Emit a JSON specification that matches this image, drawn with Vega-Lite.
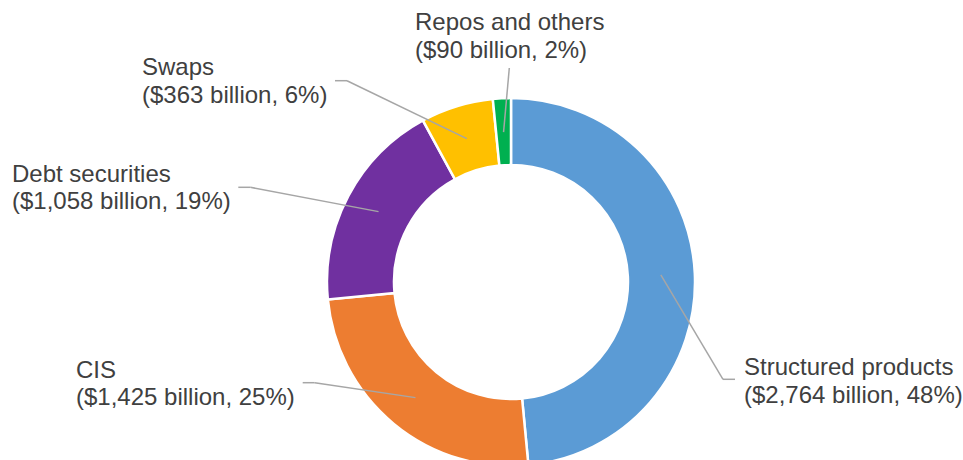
{
  "$schema": "https://vega.github.io/schema/vega-lite/v6.json",
  "width": 904,
  "height": 356,
  "autosize": {"type": "none"},
  "padding": {"left": 59, "top": 104, "right": 0, "bottom": 0},
  "background": "white",
  "config": {"view": {"stroke": null}},
  "data": {
    "values": [
      {"category": "Structured products", "value": 2764, "pct": 48, "order": 1},
      {"category": "CIS", "value": 1425, "pct": 25, "order": 2},
      {"category": "Debt securities", "value": 1058, "pct": 19, "order": 3},
      {"category": "Swaps", "value": 363, "pct": 6, "order": 4},
      {"category": "Repos and others", "value": 90, "pct": 2, "order": 5}
    ]
  },
  "transform": [
    {"joinaggregate": [{"op": "sum", "field": "value", "as": "total"}]},
    {"window": [{"op": "sum", "field": "value", "as": "cum"}], "sort": [{"field": "order", "order": "ascending"}], "frame": [null, 0]},
    {"calculate": "2*PI*(datum.cum - datum.value/2)/datum.total", "as": "mid"},
    {"calculate": "150*sin(datum.mid)", "as": "ix"},
    {"calculate": "150*cos(datum.mid)", "as": "iy"},
    {"calculate": "[datum.category, '($' + format(datum.value, ',') + ' billion, ' + datum.pct + '%)']", "as": "label"},
    {"calculate": "datum.order==1 ? 233 : datum.order==2 ? -435 : datum.order==3 ? -499 : datum.order==4 ? -369 : -96", "as": "tx"},
    {"calculate": "datum.order==1 ? -93 : datum.order==2 ? -95.5 : datum.order==3 ? 100.3 : datum.order==4 ? 207 : 252", "as": "ty"},
    {"calculate": "datum.order==1 ? 224 : datum.order==2 ? -208.3 : datum.order==3 ? -272.7 : datum.order==4 ? -176 : -1.7", "as": "ex"},
    {"calculate": "datum.order==1 ? -97.3 : datum.order==2 ? -100.7 : datum.order==3 ? 94.7 : datum.order==4 ? 201.3 : 214", "as": "ey"},
    {"calculate": "datum.order==5 ? datum.ex : datum.ex > 0 ? datum.ex - 12 : datum.ex + 12", "as": "bx"},
    {"calculate": "datum.ey", "as": "by"}
  ],
  "layer": [
    {
      "mark": {"type": "arc", "outerRadius": 184, "innerRadius": 117, "stroke": "white", "strokeWidth": 2.5},
      "encoding": {
        "theta": {"field": "value", "type": "quantitative", "stack": true},
        "order": {"field": "order", "type": "quantitative", "sort": "ascending"},
        "color": {
          "field": "category",
          "type": "nominal",
          "scale": {
            "domain": ["Structured products", "CIS", "Debt securities", "Swaps", "Repos and others"],
            "range": ["#5B9BD5", "#ED7D31", "#7030A0", "#FFC000", "#00B050"]
          },
          "legend": null
        }
      }
    },
    {
      "mark": {"type": "rule", "color": "#A6A6A6", "strokeWidth": 1.5},
      "encoding": {
        "x": {"field": "ix", "type": "quantitative", "scale": {"domain": [-452, 452], "nice": false, "zero": false}, "axis": null},
        "y": {"field": "iy", "type": "quantitative", "scale": {"domain": [-178, 178], "nice": false, "zero": false}, "axis": null},
        "x2": {"field": "bx"},
        "y2": {"field": "by"}
      }
    },
    {
      "mark": {"type": "rule", "color": "#A6A6A6", "strokeWidth": 1.5},
      "encoding": {
        "x": {"field": "bx", "type": "quantitative", "scale": {"domain": [-452, 452], "nice": false, "zero": false}, "axis": null},
        "y": {"field": "by", "type": "quantitative", "scale": {"domain": [-178, 178], "nice": false, "zero": false}, "axis": null},
        "x2": {"field": "ex"},
        "y2": {"field": "ey"}
      }
    },
    {
      "mark": {"type": "text", "align": "left", "baseline": "alphabetic", "fontSize": 24, "font": "Liberation Sans", "color": "#404040", "lineHeight": 27.7},
      "encoding": {
        "x": {"field": "tx", "type": "quantitative", "scale": {"domain": [-452, 452], "nice": false, "zero": false}, "axis": null},
        "y": {"field": "ty", "type": "quantitative", "scale": {"domain": [-178, 178], "nice": false, "zero": false}, "axis": null},
        "text": {"field": "label"}
      }
    }
  ]
}
